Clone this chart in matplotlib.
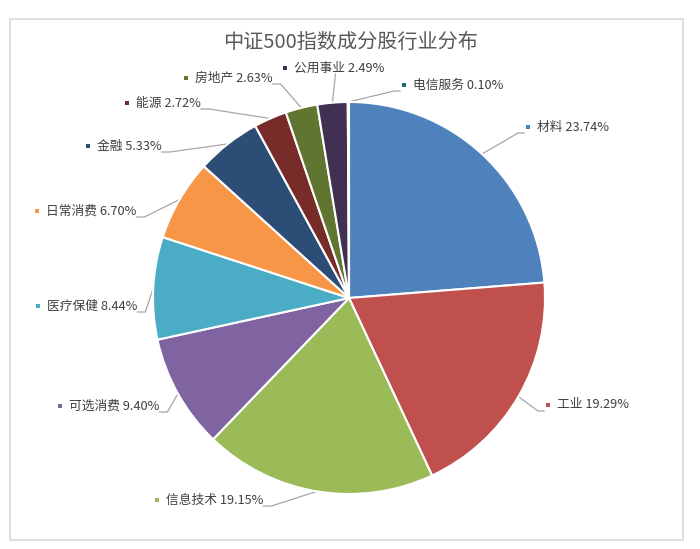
import matplotlib
matplotlib.use('Agg')
import matplotlib.pyplot as plt
import numpy as np

plt.rcParams['font.family'] = ['Noto Sans CJK SC', 'DejaVu Sans']

# data
industries = ['材料', '工业', '信息技术', '可选消费', '医疗保健', '日常消费',
              '金融', '能源', '房地产', '公用事业', '电信服务']
weights = [23.74, 19.29, 19.15, 9.40, 8.44, 6.70, 5.33, 2.72, 2.63, 2.49, 0.10]
colors = ['#4F81BD', '#C0504D', '#9BBB59', '#8064A2', '#4BACC6', '#F79646',
          '#2C4D75', '#772C2A', '#5F7530', '#403152', '#276A7C']

W, H = 700, 549
fig = plt.figure(figsize=(W / 100, H / 100), dpi=100)
ax = fig.add_axes([0, 0, 1, 1])

# chart frame
ax.add_patch(plt.Rectangle((10, 9), 673, 521, fill=False, edgecolor='#D9D9D9', lw=1.2))

cx, cy, r = 349, H - 298, 196
wedges, _ = ax.pie(weights, colors=colors, startangle=90, counterclock=False,
                   center=(cx, cy), radius=r, frame=True,
                   wedgeprops=dict(edgecolor='white', linewidth=1.5))
ax.set_xlim(0, W)
ax.set_ylim(0, H)
ax.set_aspect('equal')
ax.axis('off')

ax.text(350, H - 42, '中证500指数成分股行业分布', ha='center', va='center',
        fontsize=14.5, color='#595959')

# label anchor: marker x, y (pixels from top)
label_pos = [(528, 127), (548, 405), (157, 500), (60, 406), (38, 306), (37, 211),
             (88, 146), (127, 103), (186, 78), (285, 68), (404, 85)]

fig.canvas.draw()
renderer = fig.canvas.get_renderer()
for w, name, val, col, (mx, my) in zip(wedges, industries, weights, colors, label_pos):
    y = H - my
    ax.scatter([mx], [y], marker='s', s=9, color=col, linewidths=0)
    t = ax.text(mx + 9, y, f'{name} {val:.2f}%', ha='left', va='center',
                fontsize=9.2, color='#404040')
    bb = t.get_window_extent(renderer).transformed(ax.transData.inverted())
    ang = np.deg2rad((w.theta1 + w.theta2) / 2)
    ex, ey = cx + r * np.cos(ang), cy + r * np.sin(ang)
    ly = y - 6
    if bb.x1 < ex:
        pts = [(ex, ey), (bb.x1 + 8, ly), (bb.x1, ly)]
    elif mx > ex:
        pts = [(ex, ey), (mx - 10, ly), (mx - 4, ly)]
    else:
        pts = [(ex, ey), (ex + 3, ly)]
    xs, ys = zip(*pts)
    ax.plot(xs, ys, color='#A6A6A6', lw=0.9, zorder=0.5)

fig.savefig('out.png', dpi=100)
